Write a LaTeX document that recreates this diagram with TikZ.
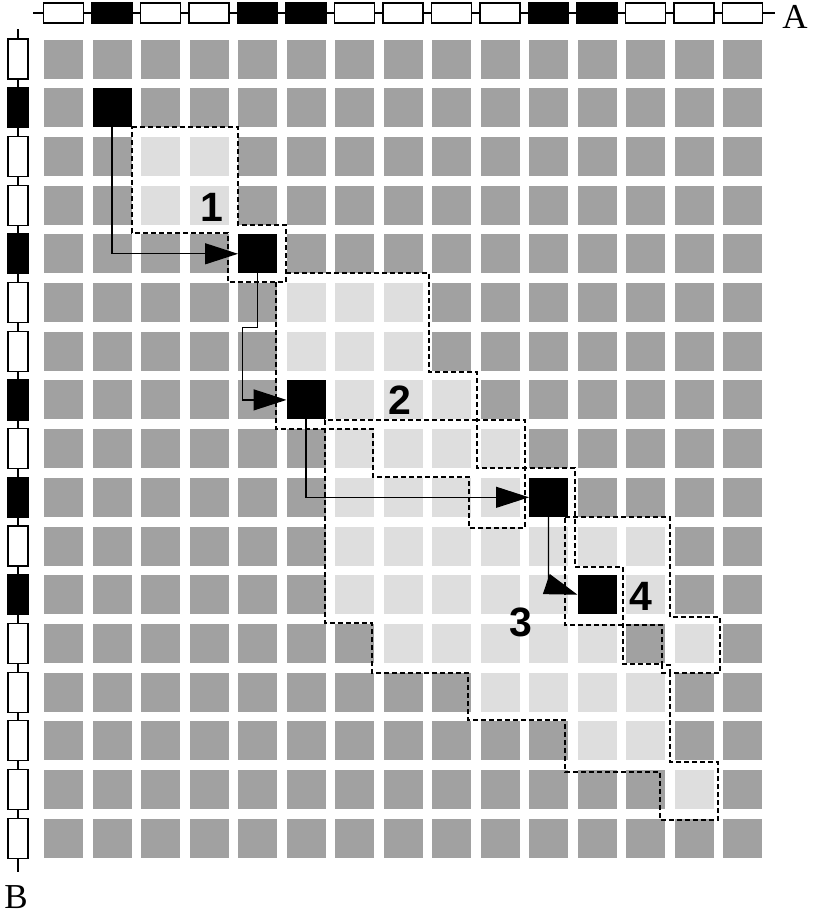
\documentclass[tikz,border=0pt]{standalone}
\usepackage{fontspec}
\setmainfont{Liberation Serif}
\setsansfont{Liberation Sans}
\usetikzlibrary{arrows.meta}

\begin{document}
\begin{tikzpicture}[x=1pt,y=-1pt,
		cell/.style={fill=black!37,minimum size=39pt,inner sep=0pt,outer sep=0pt},
		lightcell/.style={cell,fill=black!13},
		hitcell/.style={cell,fill=black},
		seqA/.style={draw,line width=1.2pt,minimum width=40pt,minimum height=20pt,inner sep=0pt,outer sep=0pt},
		seqB/.style={draw,line width=1.2pt,minimum width=20pt,minimum height=40pt,inner sep=0pt,outer sep=0pt},
		region/.style={line width=1.3pt,dash pattern=on 5pt off 3pt},
		flow/.style={line width=1.3pt,-{Triangle[length=33pt,width=21pt]}},
		num/.style={font=\sffamily\bfseries\fontsize{41}{41}\selectfont,inner sep=0pt},
		seqname/.style={font=\fontsize{35}{35}\selectfont,inner sep=0pt}
	]
	\useasboundingbox (0,0) rectangle (812,918);

	% sequence A
	\coordinate (A-start) at (33,13);
	\coordinate (A-end) at (775,13);
	\draw[line width=1.2pt] (A-start) -- (A-end);
	\foreach \f [count=\i from 0] in {white,black,white,white,black,black,white,white,white,white,black,black,white,white,white}
		\node[seqA,fill=\f] (a-\i) at ({63.5+48.5*\i},13) {};
	\node[seqname] (A) at (795,17) {A};

	% sequence B
	\coordinate (B-start) at (18,29);
	\coordinate (B-end) at (18,872);
	\draw[line width=1.2pt] (B-start) -- (B-end);
	\foreach \f [count=\j from 0] in {white,black,white,white,black,white,white,black,white,black,white,black,white,white,white,white,white}
		\node[seqB,fill=\f] (b-\j) at (18,{59+48.7*\j}) {};
	\node[seqname] (B) at (16,897) {B};

	% dot matrix
	\foreach \i in {0,...,14}
		\foreach \j in {0,...,16}
			\node[cell] (c-\i-\j) at ({63.5+48.5*\i},{59+48.7*\j}) {};

	\foreach \i/\j in {2/2,3/2,2/3,3/3,
			5/5,6/5,7/5,5/6,6/6,7/6,6/7,7/7,8/7,
			6/8,7/8,8/8,9/8,6/9,7/9,8/9,9/9,
			6/10,7/10,8/10,9/10,10/10,11/10,12/10,
			6/11,7/11,8/11,9/11,10/11,12/11,
			7/12,8/12,9/12,10/12,11/12,13/12,
			9/13,10/13,11/13,12/13,11/14,12/14,13/15}
		\node[lightcell] (l-\i-\j) at (c-\i-\j) {};

	\foreach \n/\i/\j in {1/1/1,2/4/4,3/5/7,4/10/9,5/11/11}
		\node[hitcell] (h\n) at (c-\i-\j) {};

	% regions
	\draw[region] (132,127) -- (238,127) -- (238,225) -- (286,225) -- (286,282)
		-- (228,282) -- (228,233) -- (132,233) -- cycle;
	\draw[region] (286,273) -- (429,273) -- (429,372) -- (477,372) -- (477,420)
		-- (525,420) -- (525,528) -- (469,528) -- (469,477) -- (373,477)
		-- (373,429) -- (276,429) -- (276,282);
	\draw[region] (477,420) -- (325,420) -- (325,623) -- (372,623) -- (372,673)
		-- (468,673) -- (468,720) -- (565,720) -- (565,772) -- (660,772)
		-- (660,820) -- (718,820) -- (718,762) -- (670,762) -- (670,673)
		-- (662,673) -- (662,664) -- (623,664) -- (623,567) -- (575,567)
		-- (575,468) -- (477,468) -- cycle;
	\draw[region] (565,517) -- (670,517) -- (670,617) -- (720,617) -- (720,673)
		-- (670,673) -- (670,665) -- (662,665) -- (662,625) -- (565,625) -- cycle;

	% path
	\draw[flow] (h1.south) |- (h2.west);
	\draw[flow] (h2.south) -- ++(0,54) -- ++(-15,0) |- (h3.west);
	\draw[flow] (h3.south) |- (h4.west);
	\draw[flow] (h4.south) -- ++(0,68) -- (h5.west);

	\node[num] (n1) at (212,207) {1};
	\node[num] (n2) at (400,400) {2};
	\node[num] (n3) at (521,622) {3};
	\node[num] (n4) at (641,596) {4};
\end{tikzpicture}
\end{document}
